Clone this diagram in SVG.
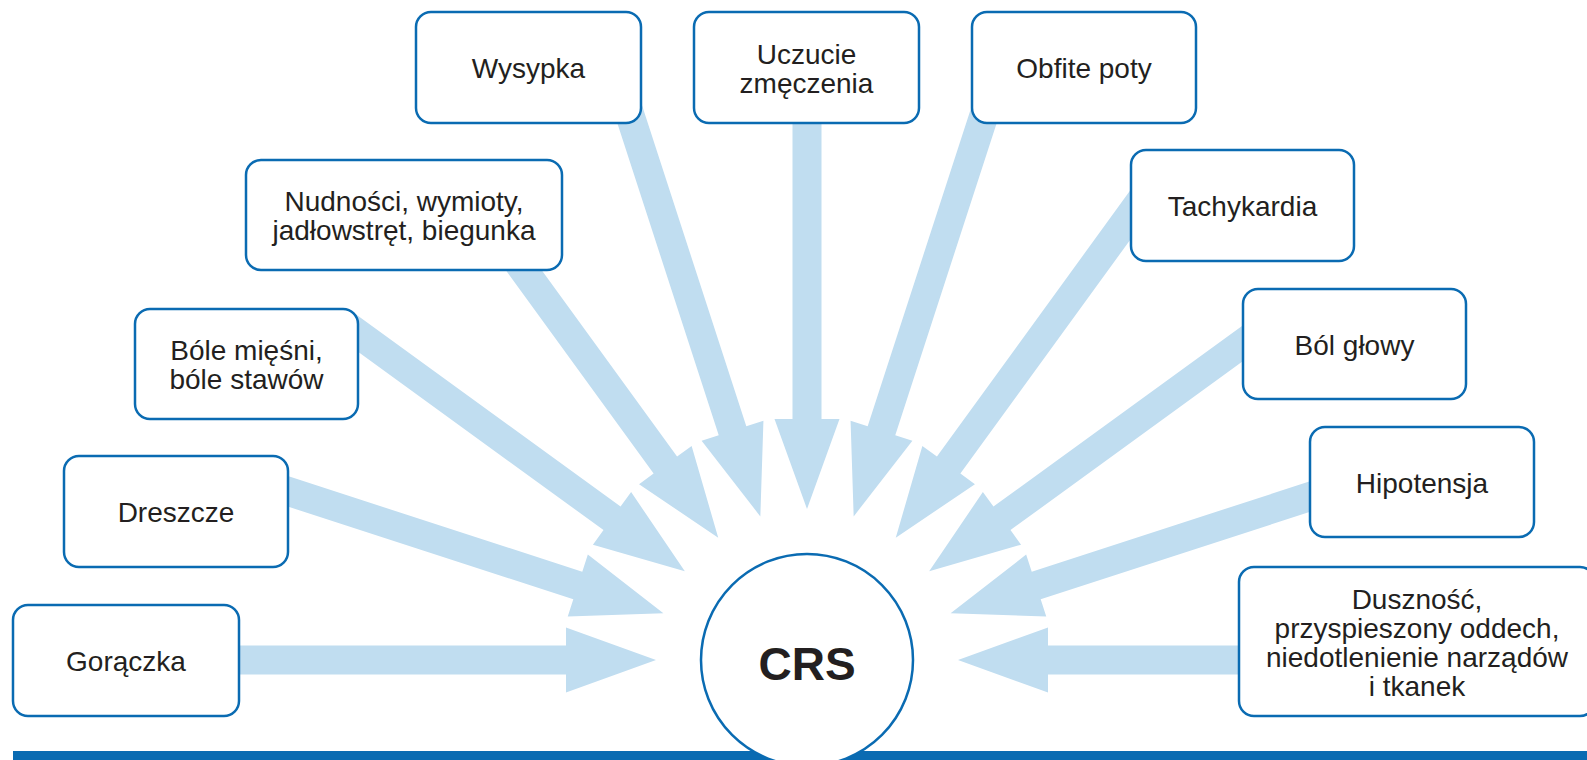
<svg xmlns="http://www.w3.org/2000/svg" xmlns:xlink="http://www.w3.org/1999/xlink" width="1587" height="760" viewBox="0 0 1587 760">
<style>
.box{fill:#ffffff;stroke:#0a6bb2;stroke-width:2.5}
.lbl{font-family:"Liberation Sans",Arial,sans-serif;font-size:28px;fill:#231f20;text-anchor:middle}
.arrow{fill:#c0ddf0}
.crs{font-family:"Liberation Sans",Arial,sans-serif;font-size:46px;font-weight:bold;fill:#231f20;text-anchor:middle}
</style>
<defs>
<polygon id="arrow" points="-151,0 -241,-32.5 -241,-14.5 -578,-14.5 -578,14.5 -241,14.5 -241,32.5"/>
</defs>
<rect width="1587" height="760" fill="#ffffff"/>
<g id="connectors" class="arrow">
<use href="#arrow" xlink:href="#arrow" transform="translate(807 660) rotate(0)"/>
<use href="#arrow" xlink:href="#arrow" transform="translate(807 660) rotate(18)"/>
<use href="#arrow" xlink:href="#arrow" transform="translate(807 660) rotate(36)"/>
<use href="#arrow" xlink:href="#arrow" transform="translate(807 660) rotate(54)"/>
<use href="#arrow" xlink:href="#arrow" transform="translate(807 660) rotate(72)"/>
<use href="#arrow" xlink:href="#arrow" transform="translate(807 660) rotate(90)"/>
<use href="#arrow" xlink:href="#arrow" transform="translate(807 660) rotate(108)"/>
<use href="#arrow" xlink:href="#arrow" transform="translate(807 660) rotate(126)"/>
<use href="#arrow" xlink:href="#arrow" transform="translate(807 660) rotate(144)"/>
<use href="#arrow" xlink:href="#arrow" transform="translate(807 660) rotate(162)"/>
<use href="#arrow" xlink:href="#arrow" transform="translate(807 660) rotate(180)"/>
</g>
<rect id="bar" x="13" y="751" width="1574" height="9" fill="#0a6bb2"/>
<g id="crs">
<circle cx="807" cy="660" r="106" fill="#ffffff" stroke="#0a6bb2" stroke-width="2.5"/>
<text class="crs" x="807" y="680">CRS</text>
</g>
<g id="goraczka">
<rect class="box" x="13" y="605" width="226" height="111" rx="15"/>
<text class="lbl" x="126" y="671">Gorączka</text>
</g>
<g id="dreszcze">
<rect class="box" x="64" y="456" width="224" height="111" rx="15"/>
<text class="lbl" x="176" y="522">Dreszcze</text>
</g>
<g id="bole-miesni">
<rect class="box" x="135" y="309" width="223" height="110" rx="15"/>
<text class="lbl" x="246.5" y="360">Bóle mięśni,</text>
<text class="lbl" x="246.5" y="389">bóle stawów</text>
</g>
<g id="nudnosci">
<rect class="box" x="246" y="160" width="316" height="110" rx="15"/>
<text class="lbl" x="404" y="211">Nudności, wymioty,</text>
<text class="lbl" x="404" y="240">jadłowstręt, biegunka</text>
</g>
<g id="wysypka">
<rect class="box" x="416" y="12" width="225" height="111" rx="15"/>
<text class="lbl" x="528.5" y="78">Wysypka</text>
</g>
<g id="zmeczenie">
<rect class="box" x="694" y="12" width="225" height="111" rx="15"/>
<text class="lbl" x="806.5" y="63.5">Uczucie</text>
<text class="lbl" x="806.5" y="92.5">zmęczenia</text>
</g>
<g id="poty">
<rect class="box" x="972" y="12" width="224" height="111" rx="15"/>
<text class="lbl" x="1084" y="78">Obfite poty</text>
</g>
<g id="tachykardia">
<rect class="box" x="1131" y="150" width="223" height="111" rx="15"/>
<text class="lbl" x="1242.5" y="216">Tachykardia</text>
</g>
<g id="bol-glowy">
<rect class="box" x="1243" y="289" width="223" height="110" rx="15"/>
<text class="lbl" x="1354.5" y="354.5">Ból głowy</text>
</g>
<g id="hipotensja">
<rect class="box" x="1310" y="427" width="224" height="110" rx="15"/>
<text class="lbl" x="1422" y="492.5">Hipotensja</text>
</g>
<g id="dusznosc">
<rect class="box" x="1239" y="567" width="356" height="149" rx="15"/>
<text class="lbl" x="1417" y="608.5">Duszność,</text>
<text class="lbl" x="1417" y="637.5">przyspieszony oddech,</text>
<text class="lbl" x="1417" y="666.5">niedotlenienie narządów</text>
<text class="lbl" x="1417" y="695.5">i tkanek</text>
</g>
</svg>
